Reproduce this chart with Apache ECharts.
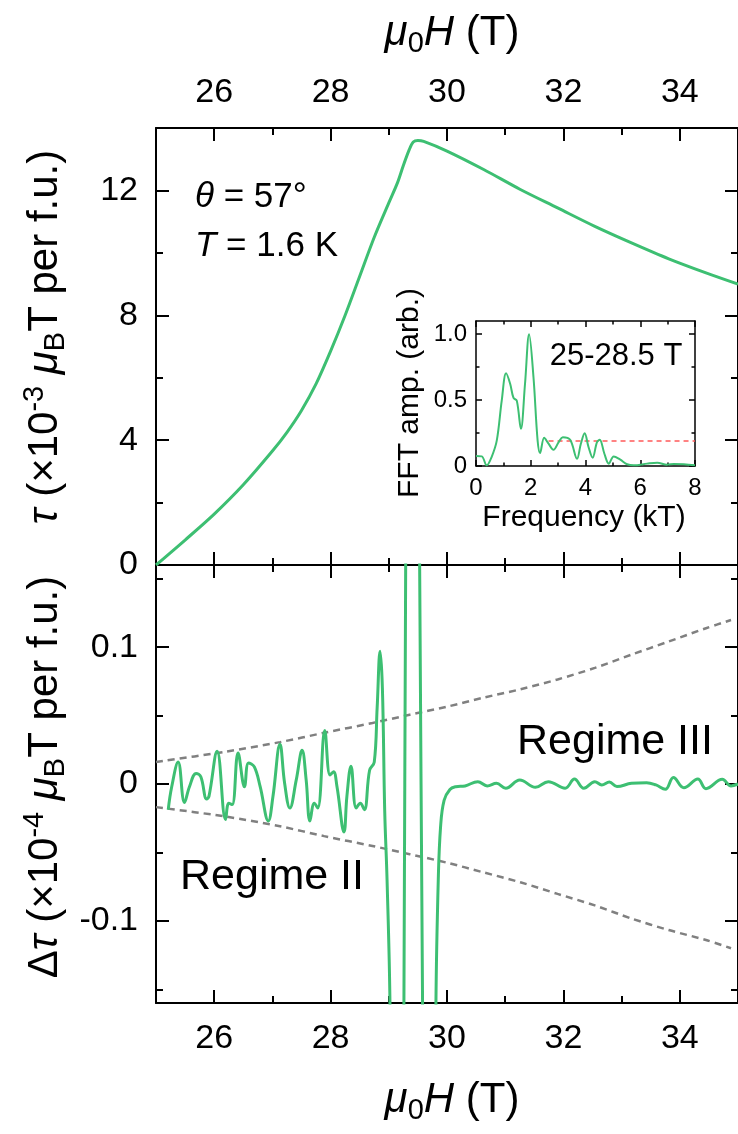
<!DOCTYPE html>
<html>
<head>
<meta charset="utf-8">
<script src="https://cdn.jsdelivr.net/npm/echarts@6/dist/echarts.min.js"></script>
<style>
  html, body { margin: 0; padding: 0; background: #fff; }
  #chart { width: 738px; height: 1134px; }
</style>
</head>
<body>
<div id="chart"></div>
<script>
// Torque magnetometry: tau(H) in the upper panel, oscillatory part in the lower panel,
// and the FFT of the 25-28.5 T window in the inset.

const fieldTop = [25.0, 25.5, 26.0, 26.5, 27.0, 27.25, 27.5, 27.75, 28.0, 28.25, 28.5, 28.75, 29.0, 29.15, 29.25, 29.35, 29.42, 29.5, 29.6, 30.0, 30.63, 31.26, 31.9, 32.54, 33.17, 33.81, 34.45, 35.0];
const torque   = [0, 0.8, 1.63, 2.57, 3.65, 4.25, 4.95, 5.8, 6.85, 8.0, 9.25, 10.5, 11.6, 12.25, 12.8, 13.3, 13.55, 13.6, 13.57, 13.26, 12.67, 12.03, 11.44, 10.85, 10.32, 9.81, 9.36, 9.0];

const fieldOsc = [25.21, 25.27, 25.38, 25.49, 25.575, 25.69, 25.77, 25.87, 25.91, 26.05, 26.195, 26.25, 26.31, 26.41, 26.52, 26.59, 26.69, 26.79, 26.93, 27.01, 27.13, 27.21, 27.30, 27.41, 27.51, 27.58, 27.645, 27.72, 27.78, 27.90, 27.99, 28.05, 28.11, 28.23, 28.28, 28.35, 28.44, 28.51, 28.58, 28.67, 28.75, 28.80, 28.85, 28.89, 28.93, 28.97, 29.02, 29.08, 29.14, 29.2, 29.24, 29.26, 29.29, 29.32, 29.41, 29.5, 29.53, 29.58, 29.62, 29.70, 29.77, 29.81, 29.85, 29.89, 29.95, 30.05, 30.15, 30.31, 30.53, 30.69, 30.85, 31.01, 31.25, 31.52, 31.74, 32.03, 32.19, 32.35, 32.54, 32.66, 32.79, 32.92, 33.17, 33.43, 33.59, 33.75, 33.89, 34.07, 34.31, 34.45, 34.73, 34.88, 35.0];
const deltaTau = [-0.0188, -0.002, 0.0161, -0.0135, -0.002, 0.0077, 0.0053, -0.011, -0.009, 0.024, -0.026, -0.014, -0.015, 0.0227, -0.002, 0.0154, 0.0125, -0.002, -0.027, -0.009, 0.029, 0.0005, -0.0176, 0.003, 0.0246, 0.003, -0.027, -0.014, -0.0176, 0.039, 0.0065, 0.009, -0.002, -0.035, -0.009, 0.013, -0.0176, -0.014, -0.0188, 0.010, 0.016, 0.056, 0.097, 0.07, -0.02, -0.07, -0.16, -0.45, -0.8, -0.7, -0.4, -0.16, 0.16, 0.45, 0.9, 0.45, 0.16, -0.16, -0.45, -0.8, -0.45, -0.16, -0.07, -0.031, -0.012, -0.004, -0.002, -0.0014, 0.0017, -0.0014, 0.0005, -0.0031, 0.0029, -0.0024, 0.0017, -0.0031, 0.0036, -0.0031, 0.0017, -0.0007, 0.0014, -0.0019, 0.0005, 0.001, -0.0007, -0.0039, 0.0048, -0.0027, 0.0036, -0.0034, 0.0034, -0.0014, 0.0];

const fieldEnv = [25.0, 26.17, 27.13, 27.89, 28.72, 29.36, 29.99, 30.63, 31.26, 31.90, 32.54, 33.17, 33.81, 34.45, 34.88];
const envUpper = [0.0161, 0.0234, 0.0306, 0.0374, 0.0446, 0.0506, 0.0564, 0.0631, 0.0692, 0.0764, 0.0848, 0.0945, 0.1041, 0.1138, 0.1198];
const envLower = [-0.0169, -0.0236, -0.0309, -0.0381, -0.0453, -0.0513, -0.0574, -0.0646, -0.0718, -0.0803, -0.0887, -0.0983, -0.1067, -0.114, -0.12];

const freq   = [0, 0.21, 0.39, 0.57, 0.76, 0.94, 1.10, 1.25, 1.37, 1.49, 1.64, 1.79, 1.94, 2.10, 2.25, 2.34, 2.49, 2.65, 2.83, 3.02, 3.17, 3.44, 3.69, 3.83, 3.97, 4.11, 4.26, 4.42, 4.52, 4.69, 4.85, 5.03, 5.27, 5.52, 5.76, 6.25, 6.62, 6.98, 7.23, 7.59, 8.0];
const fftAmp = [0.076, 0.073, 0.005, 0.068, 0.194, 0.496, 0.703, 0.622, 0.516, 0.496, 0.282, 0.622, 1.0, 0.673, 0.194, 0.098, 0.214, 0.169, 0.123, 0.181, 0.219, 0.199, 0.055, 0.169, 0.249, 0.144, 0.063, 0.181, 0.199, 0.093, 0.018, 0.073, 0.048, 0.013, 0.005, 0.018, 0.025, 0.010, 0.015, 0.013, 0.005];
const noiseFreq  = [2.65, 8.0];
const noiseLevel = [0.19, 0.19];

const fieldMajor = [26, 28, 30, 32, 34];
const fieldMinor = [25, 27, 29, 31, 33, 35];
const torqueMajor = [0, 4, 8, 12];
const torqueMinor = [2, 6, 10, 14];
const oscMajor = [-0.1, 0, 0.1];
const oscMinor = [-0.15, -0.05, 0.05, 0.15];
const freqMajor = [0, 2, 4, 6, 8];
const freqMinor = [1, 3, 5, 7];
const ampMajor = [0, 0.5, 1.0];
const ampMinor = [0.25, 0.75];

const FONT = '"Liberation Sans", Arial, Helvetica, sans-serif';
const GREEN = '#3dbf72';

const zip = (a, b) => a.map((v, i) => [v, b[i]]);

// Builds the axes of one dimension: a major and a minor axis on each side, ticks pointing inward.
function axisPair(dim, grid, min, max, majors, minors, cfg) {
  const sides = dim === 'x' ? ['bottom', 'top'] : ['left', 'right'];
  const out = [];
  sides.forEach(pos => {
    out.push({
      type: 'value', gridIndex: grid, position: pos, min: min, max: max,
      axisLine: { show: true, onZero: false, lineStyle: { color: '#000', width: cfg.lw } },
      axisTick: { show: true, inside: true, length: cfg.major, customValues: majors, lineStyle: { color: '#000', width: cfg.lw } },
      axisLabel: {
        show: cfg.labels.indexOf(pos) >= 0, customValues: majors, margin: cfg.margin,
        fontSize: cfg.fs, fontFamily: FONT, color: '#000', formatter: cfg.fmt
      },
      splitLine: { show: false }
    });
    out.push({
      type: 'value', gridIndex: grid, position: pos, min: min, max: max,
      axisLine: { show: false, onZero: false },
      axisTick: { show: true, inside: true, length: cfg.minor, customValues: minors, lineStyle: { color: '#000', width: cfg.lw } },
      axisLabel: { show: false },
      splitLine: { show: false }
    });
  });
  return out;
}

const intFmt = v => String(Math.round(v));
const decFmt = v => (Math.abs(v) < 1e-9 ? '0' : v.toFixed(1));

const mainCfg = { lw: 2, major: 13, minor: 7, fs: 34, margin: 18 };
const insetCfg = { lw: 1.5, major: 6, minor: 3.5, fs: 24, margin: 9 };

const xAxes = [].concat(
  axisPair('x', 0, 25, 35, fieldMajor, fieldMinor, Object.assign({}, mainCfg, { labels: ['top'], fmt: intFmt })),
  axisPair('x', 1, 25, 35, fieldMajor, fieldMinor, Object.assign({}, mainCfg, { labels: ['bottom'], fmt: intFmt, margin: 19 })),
  axisPair('x', 2, 0, 8, freqMajor, freqMinor, Object.assign({}, insetCfg, { labels: ['bottom'], fmt: intFmt, margin: 10 }))
);
const yAxes = [].concat(
  axisPair('y', 0, 0, 14, torqueMajor, torqueMinor, Object.assign({}, mainCfg, { labels: ['left'], fmt: intFmt })),
  axisPair('y', 1, -0.16, 0.16, oscMajor, oscMinor, Object.assign({}, mainCfg, { labels: ['left'], fmt: decFmt })),
  axisPair('y', 2, 0, 1.1, ampMajor, ampMinor, Object.assign({}, insetCfg, { labels: ['left'], fmt: decFmt }))
);

const italic = size => ({ fontSize: size, fontFamily: FONT, fontStyle: 'italic', lineHeight: Math.round(size * 1.2) });
const sup = size => ({ fontSize: size, fontFamily: FONT, lineHeight: size, verticalAlign: 'top' });
const sub = size => ({ fontSize: size, fontFamily: FONT, lineHeight: size, verticalAlign: 'bottom' });

// Free text: axis titles, annotations and inset captions (rich text for italics, sub- and superscripts).
function label(x, y, text, size, align, rotation) {
  return {
    type: 'text', x: x, y: y, z: 10, rotation: rotation || 0,
    style: {
      text: text, fill: '#000', fontSize: size, fontFamily: FONT,
      lineHeight: Math.round(size * 1.2), align: align || 'left', verticalAlign: 'middle',
      rich: { i: italic(size), sup: sup(Math.round(size * 0.68)), sub: sub(Math.round(size * 0.68)) }
    }
  };
}

const option = {
  backgroundColor: '#fff',
  animation: false,
  grid: [
    { left: 156, top: 128, width: 591, height: 437 },
    { left: 156, top: 565, width: 591, height: 438 },
    { left: 476, top: 321, width: 219, height: 145 }
  ],
  xAxis: xAxes,
  yAxis: yAxes,
  series: [
    {
      type: 'line', xAxisIndex: 0, yAxisIndex: 0, data: zip(fieldTop, torque),
      showSymbol: false, smooth: 0.3, lineStyle: { color: GREEN, width: 3 }
    },
    {
      type: 'line', xAxisIndex: 4, yAxisIndex: 4, data: zip(fieldEnv, envUpper),
      showSymbol: false, smooth: 0.3, lineStyle: { color: '#808080', width: 2.5, type: [7, 5] }
    },
    {
      type: 'line', xAxisIndex: 4, yAxisIndex: 4, data: zip(fieldEnv, envLower),
      showSymbol: false, smooth: 0.3, lineStyle: { color: '#808080', width: 2.5, type: [7, 5] }
    },
    {
      type: 'line', xAxisIndex: 4, yAxisIndex: 4, data: zip(fieldOsc, deltaTau),
      showSymbol: false, smooth: 0.4, clip: true, lineStyle: { color: GREEN, width: 3 }
    },
    {
      type: 'line', xAxisIndex: 8, yAxisIndex: 8, data: zip(noiseFreq, noiseLevel),
      showSymbol: false, lineStyle: { color: '#ff5a5a', width: 1.5, type: [5, 4] }
    },
    {
      type: 'line', xAxisIndex: 8, yAxisIndex: 8, data: zip(freq, fftAmp),
      showSymbol: false, smooth: 0.35, lineStyle: { color: GREEN, width: 2 }
    }
  ],
  graphic: [
    label(452, 33, '{i|μ}{sub|0}{i|H} (T)', 42, 'center'),
    label(452, 1100, '{i|μ}{sub|0}{i|H} (T)', 42, 'center'),
    label(45, 337, '{i|τ} (×10{sup|-3} {i|μ}{sub|B}T per f.u.)', 42, 'center', Math.PI / 2),
    label(45, 777, 'Δ{i|τ} (×10{sup|-4} {i|μ}{sub|B}T per f.u.)', 42, 'center', Math.PI / 2),
    label(195, 197, '{i|θ} = 57°', 35),
    label(195, 246, '{i|T} = 1.6 K', 35),
    label(517, 742, 'Regime III', 43),
    label(180, 877, 'Regime II', 43),
    label(616, 356, '25-28.5 T', 31, 'center'),
    label(584, 518, 'Frequency (kT)', 30, 'center'),
    label(410, 393, 'FFT amp. (arb.)', 30, 'center', Math.PI / 2)
  ]
};

const chart = echarts.init(document.getElementById('chart'), null, { renderer: 'canvas', width: 738, height: 1134 });
chart.setOption(option);
</script>
</body>
</html>
